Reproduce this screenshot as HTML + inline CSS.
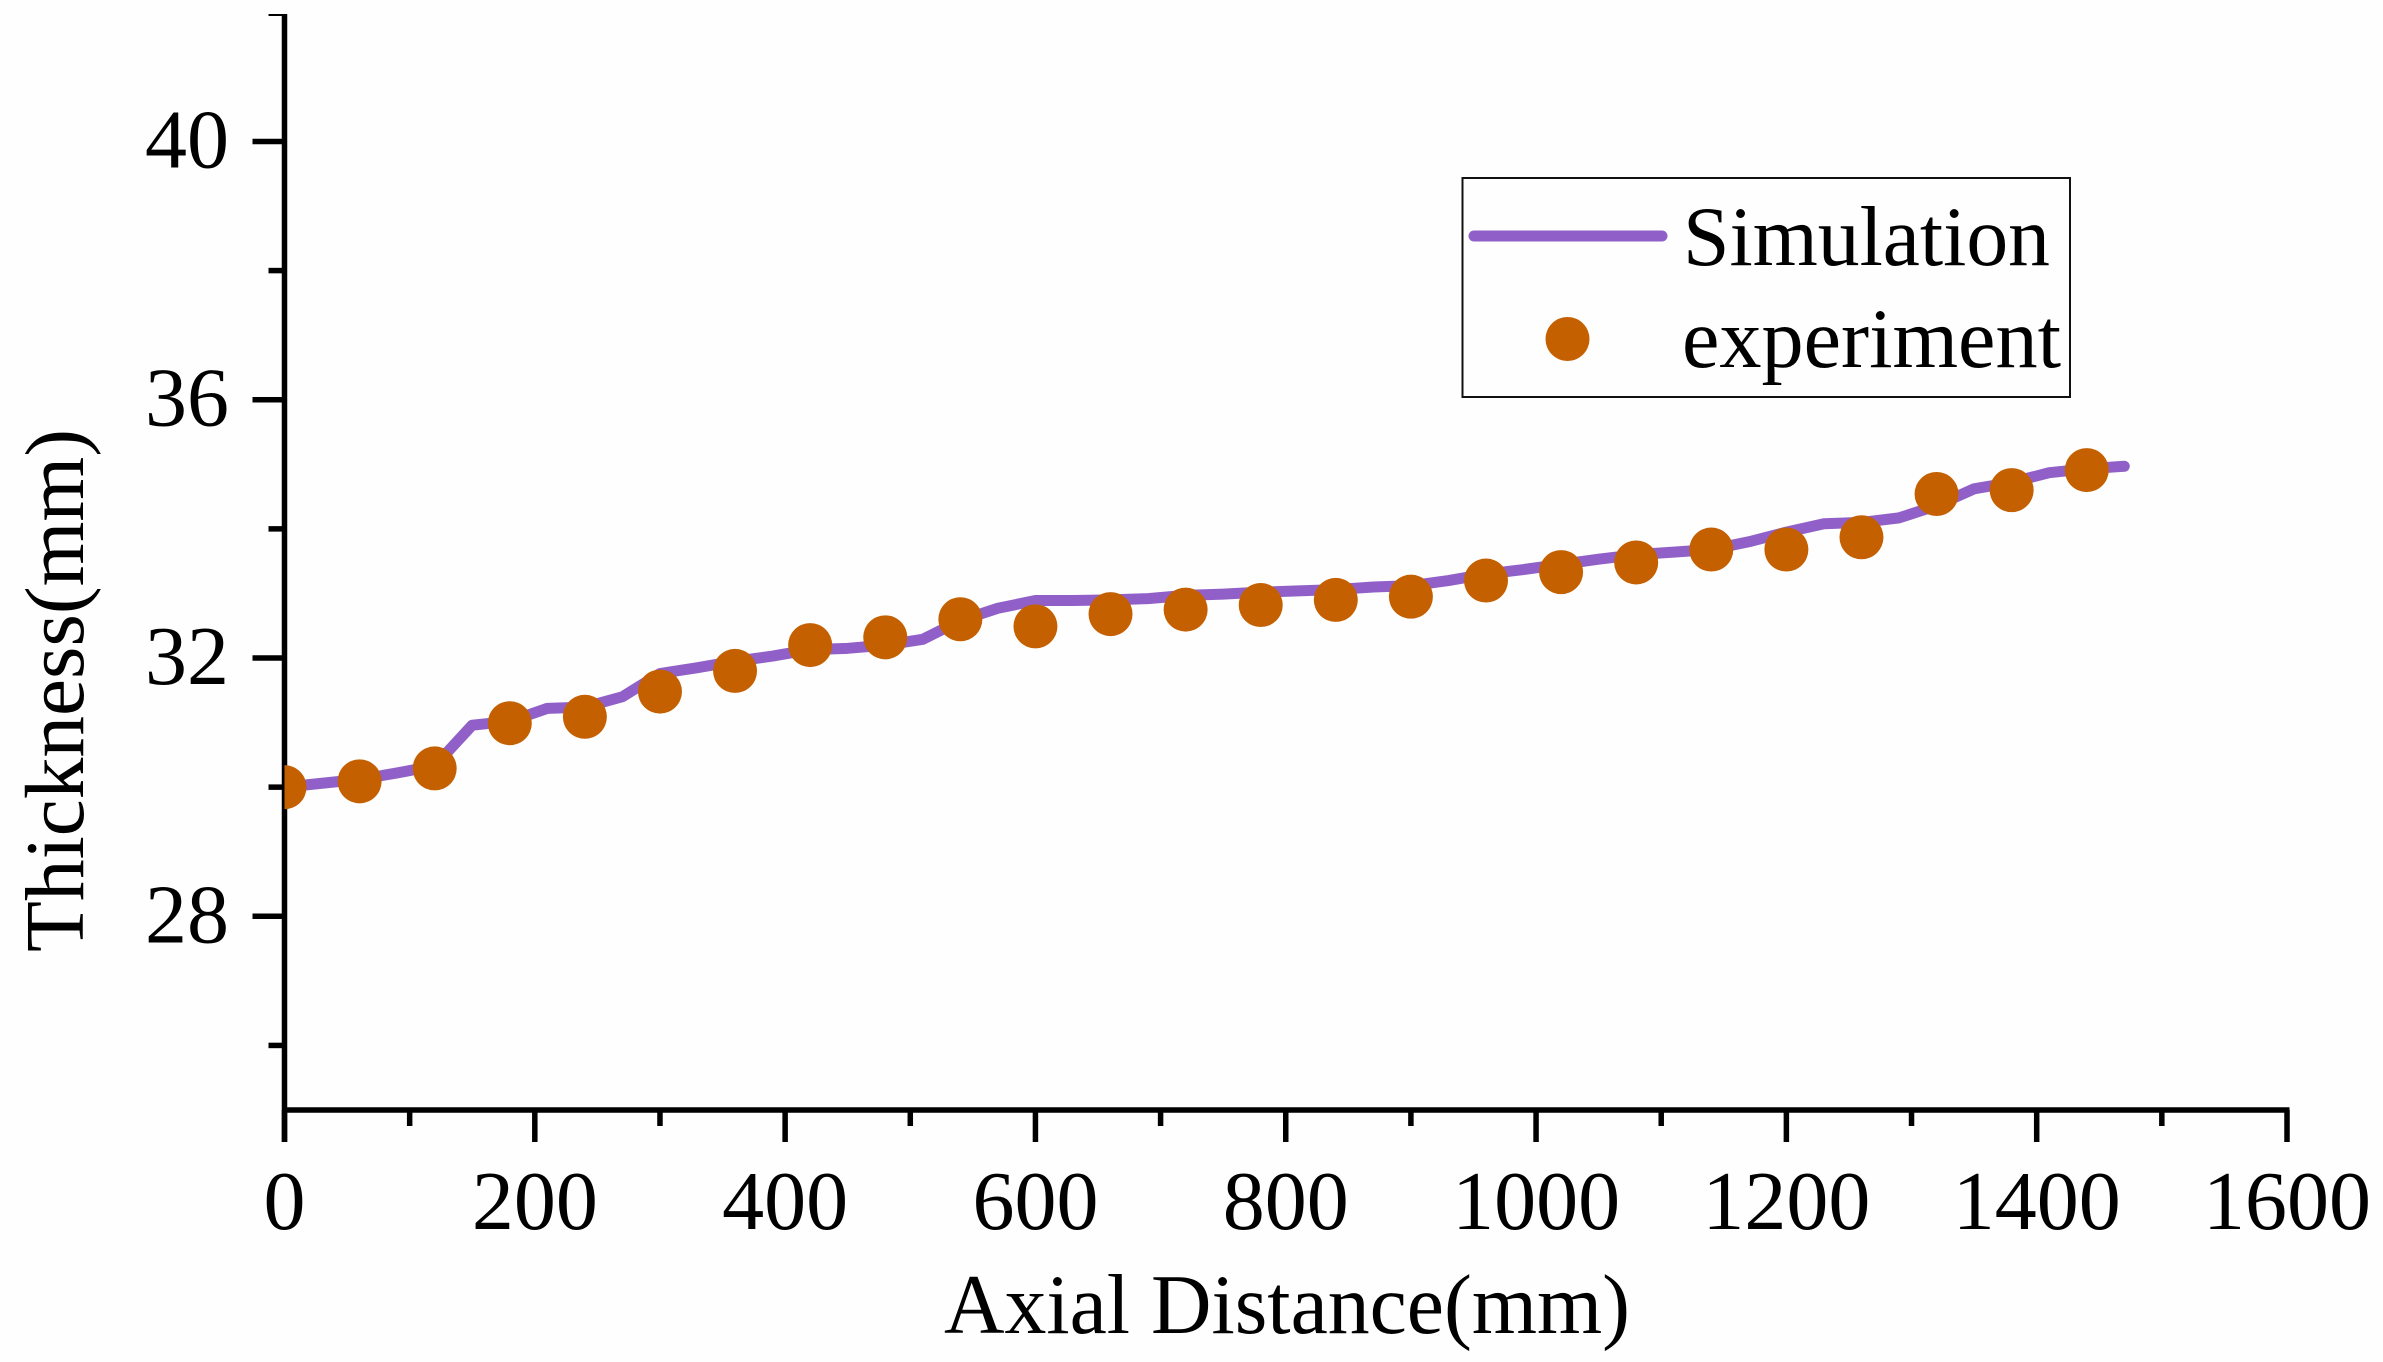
<!DOCTYPE html>
<html>
<head>
<meta charset="utf-8">
<title>Thickness vs Axial Distance</title>
<style>
  html, body { margin: 0; padding: 0; background: #fefefe; }
  svg { display: block; }
  text { font-family: "Liberation Serif", serif; fill: #000; }
</style>
</head>
<body>
<svg id="chart" xmlns="http://www.w3.org/2000/svg" width="2383" height="1362" viewBox="0 0 2383 1362">
  <rect x="0" y="0" width="2383" height="1362" fill="#fefefe"/>
  <defs>
    <clipPath id="plot-clip"><rect id="plot-clip-rect" x="0" y="0" width="0" height="0"/></clipPath>
  </defs>
  <g id="axes"></g>
  <g id="marks" clip-path="url(#plot-clip)"></g>
  <text transform="translate(83 952) rotate(-90)" font-size="84" textLength="523" lengthAdjust="spacingAndGlyphs">Thickness(mm)</text>
  <text x="944" y="1333" font-size="85" textLength="686" lengthAdjust="spacingAndGlyphs">Axial Distance(mm)</text>
  <g>
    <rect x="1462.5" y="178" width="607.5" height="219" fill="none" stroke="#111" stroke-width="2"/>
    <line x1="1474" y1="236" x2="1662" y2="236" stroke="#9060c8" stroke-width="11" stroke-linecap="round"/>
    <text x="1683" y="265" font-size="85" textLength="367" lengthAdjust="spacingAndGlyphs">Simulation</text>
    <circle cx="1567.5" cy="339" r="22" fill="#c46000"/>
    <text x="1682" y="367" font-size="85" textLength="379" lengthAdjust="spacingAndGlyphs">experiment</text>
  </g>
</svg>
<script>
// Chart data
const simulationX = [0,30,60,90,120,150,180,210,240,270,300,330,360,390,420,450,480,510,540,570,600,630,660,690,720,750,780,810,840,870,900,930,960,990,1020,1050,1080,1110,1140,1170,1200,1230,1260,1290,1320,1350,1380,1410,1440,1470];
const simulationY = [30.0,30.06,30.12,30.22,30.33,30.96,31.02,31.22,31.24,31.4,31.76,31.85,31.95,32.03,32.13,32.15,32.2,32.29,32.58,32.77,32.89,32.89,32.9,32.92,32.97,32.99,33.02,33.04,33.06,33.1,33.12,33.2,33.3,33.37,33.45,33.53,33.6,33.64,33.68,33.8,33.95,34.08,34.1,34.17,34.36,34.62,34.72,34.87,34.93,34.97];
const experimentX = [0,60,120,180,240,300,360,420,480,540,600,660,720,780,840,900,960,1020,1080,1140,1200,1260,1320,1380,1440];
const experimentY = [30.0,30.09,30.29,30.99,31.09,31.48,31.8,32.2,32.32,32.6,32.49,32.68,32.75,32.82,32.9,32.95,33.2,33.33,33.48,33.68,33.68,33.87,34.54,34.6,34.91];
const xMajorTicks = [0,200,400,600,800,1000,1200,1400,1600];
const xMinorTicks = [100,300,500,700,900,1100,1300,1500];
const yMajorTicks = [28,32,36,40];
const yMinorTicks = [26,30,34,38];

const NS = 'http://www.w3.org/2000/svg';
const plotLeft = 284.5, plotRight = 2287, plotTop = 12.3, plotBottom = 1110;
const axisTop = 15;
const xMin = 0, xMax = 1600, yMin = 25, yMax = 42;

function xScale(v) { return plotLeft + (v - xMin) / (xMax - xMin) * (plotRight - plotLeft); }
function yScale(v) { return plotBottom - (v - yMin) / (yMax - yMin) * (plotBottom - plotTop); }

const axes = document.getElementById('axes');
const marks = document.getElementById('marks');

const clipRect = document.getElementById('plot-clip-rect');
clipRect.setAttribute('x', plotLeft);
clipRect.setAttribute('y', plotTop);
clipRect.setAttribute('width', plotRight - plotLeft + 200);
clipRect.setAttribute('height', plotBottom - plotTop);

function drawRule(parent, x1, y1, x2, y2, width) {
  const l = document.createElementNS(NS, 'line');
  l.setAttribute('x1', x1);
  l.setAttribute('y1', y1);
  l.setAttribute('x2', x2);
  l.setAttribute('y2', y2);
  l.setAttribute('stroke', '#000');
  l.setAttribute('stroke-width', width);
  parent.appendChild(l);
  return l;
}

function drawLabel(parent, x, y, anchor, str) {
  const t = document.createElementNS(NS, 'text');
  t.setAttribute('x', x);
  t.setAttribute('y', y);
  t.setAttribute('font-size', '84');
  t.setAttribute('text-anchor', anchor);
  t.textContent = str;
  parent.appendChild(t);
  return t;
}

const yAxisLine = drawRule(axes, plotLeft, axisTop - 1, plotLeft, plotBottom + 32, 5.5);


const xAxisLine = drawRule(axes, plotLeft - 2.5, plotBottom, plotRight + 2.5, plotBottom, 5.5);


const yTopCap = drawRule(axes, plotLeft - 16, axisTop, plotLeft, axisTop, 2);



xMajorTicks.forEach(function (v) {
  const tick = drawRule(axes, xScale(v), plotBottom, xScale(v), plotBottom + 32, 5.5);
  
  
  const label = drawLabel(axes, xScale(v), 1229, 'middle', String(v));
  
  
});
xMinorTicks.forEach(function (v) {
  const tick = drawRule(axes, xScale(v), plotBottom, xScale(v), plotBottom + 16, 5.5);
  
  
});
yMajorTicks.forEach(function (v) {
  const tick = drawRule(axes, plotLeft - 32, yScale(v), plotLeft, yScale(v), 5.5);
  
  
  const label = drawLabel(axes, 229, yScale(v) + 26, 'end', String(v));
  
  
});
yMinorTicks.forEach(function (v) {
  const tick = drawRule(axes, plotLeft - 16, yScale(v), plotLeft, yScale(v), 5.5);
  
  
});

const simLine = document.createElementNS(NS, 'polyline');


simLine.setAttribute('fill', 'none');
simLine.setAttribute('stroke', '#9060c8');
simLine.setAttribute('stroke-width', '11');
simLine.setAttribute('stroke-linejoin', 'round');
simLine.setAttribute('stroke-linecap', 'round');
simLine.setAttribute('points', simulationX.map(function (x, i) {
  return xScale(x).toFixed(2) + ',' + yScale(simulationY[i]).toFixed(2);
}).join(' '));
marks.appendChild(simLine);

experimentX.forEach(function (x, i) {
  const c = document.createElementNS(NS, 'circle');
  
  
  c.setAttribute('cx', xScale(x).toFixed(2));
  c.setAttribute('cy', yScale(experimentY[i]).toFixed(2));
  c.setAttribute('r', '22');
  c.setAttribute('fill', '#c46000');
  marks.appendChild(c);
});
</script>
</body>
</html>
